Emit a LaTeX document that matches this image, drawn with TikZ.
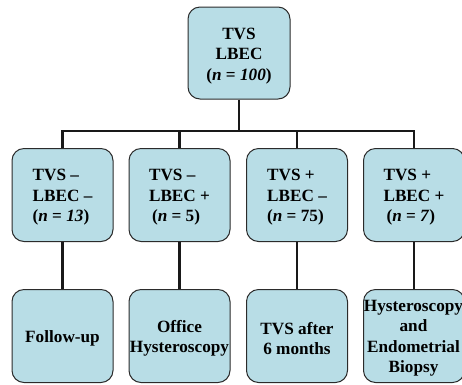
\documentclass[tikz,border=0pt]{standalone}
\usepackage{fontspec}
\setmainfont{Liberation Serif}
\definecolor{boxfill}{HTML}{B8DDE6}
\definecolor{boxline}{HTML}{2B2B2B}
\begin{document}
\begin{tikzpicture}[x=1pt,y=-1pt,
  box/.style={draw=boxline,line width=1pt,fill=boxfill,rounded corners=12pt,
    minimum width=101pt,minimum height=93pt,inner sep=0pt},
  txt/.style={inner sep=0pt,font=\fontsize{17.2}{20.5}\selectfont\bfseries},
  conn/.style={line width=2.2pt,black!90}]
\useasboundingbox (0,0) rectangle (462,384);
% top
\node[box,minimum width=102pt,minimum height=92pt] (top) at (239,53) {};
\node[txt,align=center] (topt) at ([yshift=-3pt]top.center) {TVS\\LBEC\\(\textit{n} = \textit{100})};
% row 2
\node[box] (b1) at (62.5,195) {};
\node[box] (b2) at (179.5,195) {};
\node[box] (b3) at (297,195) {};
\node[box] (b4) at (414,195) {};
\node[txt,align=left] (b1t) at ([yshift=-2.5pt]b1.center) {TVS --\\LBEC --\\(\textit{n} = \textit{13})};
\node[txt,align=left] (b2t) at ([yshift=-2.5pt]b2.center) {TVS --\\LBEC +\\\hspace{3pt}(\textit{n} = 5)};
\node[txt,align=left] (b3t) at ([yshift=-2.5pt]b3.center) {TVS +\\LBEC --\\(\textit{n} = 75)};
\node[txt,align=left] (b4t) at ([yshift=-2.5pt]b4.center) {TVS +\\LBEC +\\\hspace{3pt}(\textit{n} = \textit{7})};
% row 3
\node[box] (c1) at (62.5,336) {};
\node[box] (c2) at (179.5,336) {};
\node[box] (c3) at (297,336) {};
\node[box] (c4) at (414,336) {};
\node[txt,align=center] (c1t) at ([yshift=-2.5pt]c1.center) {Follow-up};
\node[txt,align=center] (c2t) at ([yshift=-2.5pt]c2.center) {Office\\Hysteroscopy};
\node[txt,align=center] (c3t) at ([yshift=-2.5pt]c3.center) {TVS after\\6 months};
\node[txt,align=center] (c4t) at ([xshift=-0.5pt,yshift=-2pt]c4.center) {Hysteroscopy\\and\\Endometrial\\Biopsy};
% connectors
\coordinate (bus) at (239,131);
\draw[conn] (top.south) -- (bus);
\draw[conn] (b1.north) |- (bus);
\draw[conn] (b2.north) |- (bus);
\draw[conn] (b3.north) |- (bus);
\draw[conn] (b4.north) |- (bus);
\draw[conn] (b1.south) -- (c1.north);
\draw[conn] (b2.south) -- (c2.north);
\draw[conn] (b3.south) -- (c3.north);
\draw[conn] (b4.south) -- (c4.north);
\end{tikzpicture}
\end{document}
